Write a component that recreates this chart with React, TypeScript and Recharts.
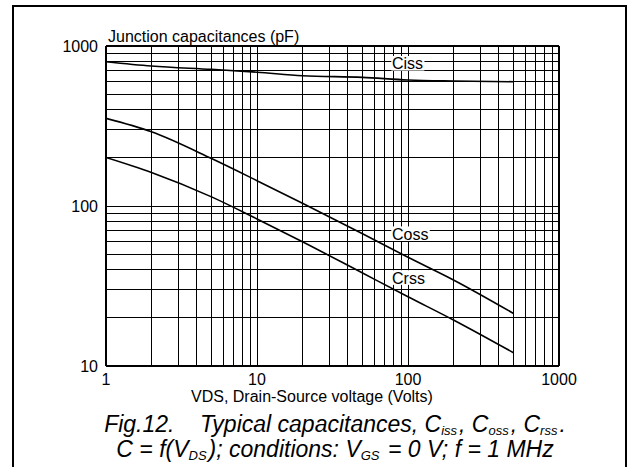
import { CartesianGrid, Line, LineChart, ReferenceDot, ReferenceLine, XAxis, YAxis } from "recharts";

// drain-source voltage (V) and capacitances (pF)
const voltages = [1, 2, 5, 10, 20, 50, 100, 200, 500];
const ciss = [798, 750, 714, 686, 652, 637, 613, 604, 598];
const coss = [353, 291, 198, 144, 104, 67, 47.8, 34.5, 21.3];
const crss = [201, 162, 114, 83, 59.8, 38.1, 27.1, 19.4, 12.1];

const xTicks = [1, 2, 3, 4, 5, 6, 7, 8, 9, 10, 20, 30, 40, 50, 60, 70, 80, 90, 100, 200, 300, 400, 500, 600, 700, 800, 900, 1000];
const yTicks = [10, 20, 30, 40, 50, 60, 70, 80, 90, 100, 200, 300, 400, 500, 600, 700, 800, 900, 1000];
const majorTicks = [1, 10, 100, 1000];

const labelNames = ["Ciss", "Coss", "Crss"];
const labelVoltages = [100, 100, 100];
const labelCaps = [780, 67.1, 35.7];

const data = voltages.map((v, i) => ({ v, ciss: ciss[i], coss: coss[i], crss: crss[i] }));

const font = "'Liberation Sans', Arial, sans-serif";
const charW: Record<string, number> = { C: 0.722, i: 0.222, s: 0.5, o: 0.556, r: 0.333 };

function CurveLabel({ cx, cy, name }: { cx?: number; cy?: number; name: string }) {
  if (cx == null || cy == null) return null;
  const w = name.split("").reduce((s, c) => s + (charW[c] ?? 0.55), 0) * 16 + 2;
  return (
    <g>
      <rect x={cx - 16.7} y={cy - 7.3} width={w} height={14.6} fill="#fff" />
      <text x={cx - 16} y={cy + 6} fontSize={16} fontFamily={font} fill="#000">
        {name}
      </text>
    </g>
  );
}

const fmt = (v: number) => (majorTicks.includes(v) ? String(v) : "");
const sub = { fontSize: 13, position: "relative" as const, top: 3, lineHeight: 0, marginRight: 2 };

export default function App() {
  return (
    <div style={{ position: "absolute", left: 0, top: 0, width: 630, height: 467, background: "#fff", overflow: "hidden", fontFamily: font }}>
      <div style={{ position: "absolute", left: 12, top: 5, width: 611, height: 480, borderLeft: "2px solid #000", borderTop: "2px solid #000", borderRight: "2px solid #000" }} />
      <LineChart width={630} height={467} data={data} margin={{ top: 46, right: 71, left: 46, bottom: 71 }}>
        <CartesianGrid stroke="#000" strokeWidth={1} shapeRendering="crispEdges" />
        <XAxis
          dataKey="v"
          type="number"
          scale="log"
          domain={[1, 1000]}
          ticks={xTicks}
          tickFormatter={fmt}
          interval={0}
          height={30}
          tickLine={false}
          axisLine={{ stroke: "#000", strokeWidth: 2 }}
          tick={{ fill: "#000", fontSize: 16, fontFamily: font }}
          allowDataOverflow
        />
        <YAxis
          type="number"
          scale="log"
          domain={[10, 1000]}
          ticks={yTicks}
          tickFormatter={fmt}
          interval={0}
          width={60}
          tickLine={false}
          axisLine={{ stroke: "#000", strokeWidth: 2 }}
          tick={{ fill: "#000", fontSize: 16, fontFamily: font }}
          allowDataOverflow
        />
        <ReferenceLine x={1000} stroke="#000" strokeWidth={2} />
        <ReferenceLine y={1000} stroke="#000" strokeWidth={2} />
        <Line dataKey="ciss" type="monotone" stroke="#000" strokeWidth={1.6} dot={false} isAnimationActive={false} />
        <Line dataKey="coss" type="monotone" stroke="#000" strokeWidth={1.6} dot={false} isAnimationActive={false} />
        <Line dataKey="crss" type="monotone" stroke="#000" strokeWidth={1.6} dot={false} isAnimationActive={false} />
        {labelNames.map((name, i) => (
          <ReferenceDot
            key={name}
            x={labelVoltages[i]}
            y={labelCaps[i]}
            r={1}
            shape={(p: any) => <CurveLabel cx={p.cx} cy={p.cy} name={name} />}
          />
        ))}
      </LineChart>
      <div style={{ position: "absolute", left: 108, top: 27.5, fontSize: 16, lineHeight: "18px", whiteSpace: "nowrap" }}>
        Junction capacitances (pF)
      </div>
      <div style={{ position: "absolute", left: 191, top: 387.5, fontSize: 16, lineHeight: "18px", whiteSpace: "nowrap" }}>
        VDS, Drain-Source voltage (Volts)
      </div>
      <div style={{ position: "absolute", left: 40, top: 412, width: 590, textAlign: "center", fontSize: 23, lineHeight: "25px", fontStyle: "italic", whiteSpace: "pre" }}>
        <div>
          {"Fig.12.    Typical capacitances, C"}
          <span style={sub}>iss</span>
          {", C"}
          <span style={sub}>oss</span>
          {", C"}
          <span style={sub}>rss</span>
          {"."}
        </div>
        <div>
          {"C = f(V"}
          <span style={sub}>DS</span>
          {"); conditions: V"}
          <span style={sub}>GS</span>
          {" = 0 V; f = 1 MHz"}
        </div>
      </div>
    </div>
  );
}
